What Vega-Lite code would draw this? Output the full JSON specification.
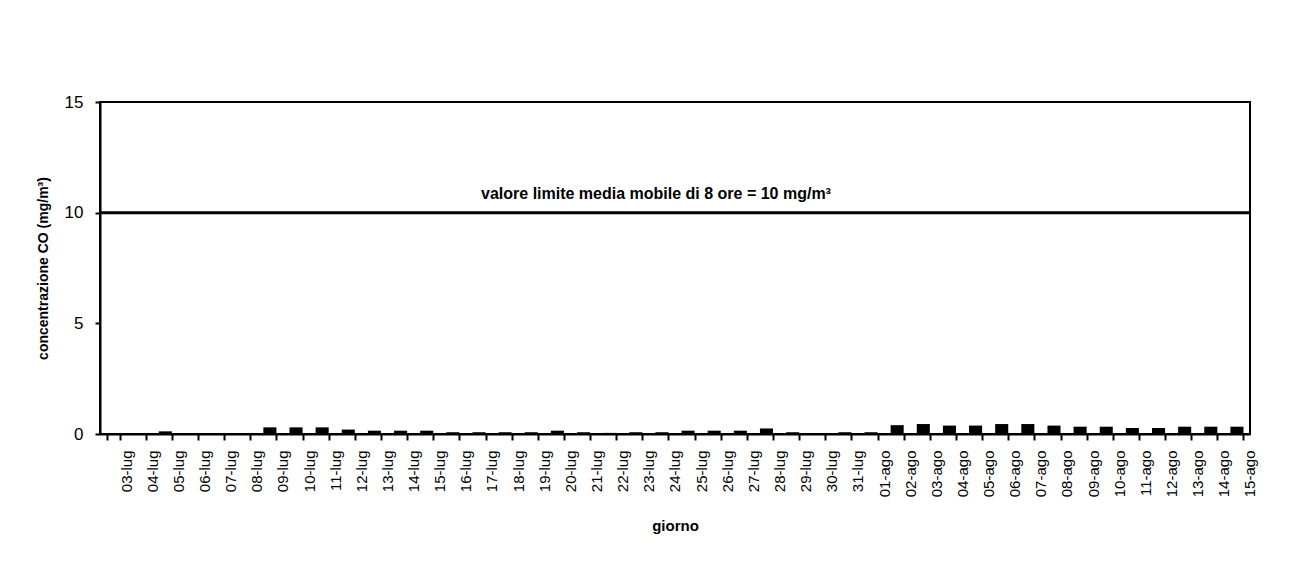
{
  "$schema": "https://vega.github.io/schema/vega-lite/v6.json",
  "width": 1150,
  "height": 332,
  "autosize": {"type": "none"},
  "padding": {"left": 100, "top": 102, "right": 39, "bottom": 135},
  "background": "white",
  "config": {
    "font": "Liberation Sans",
    "view": {"stroke": "black", "strokeWidth": 2},
    "axis": {"domainColor": "black", "domainWidth": 2, "tickColor": "black", "tickWidth": 2, "labelColor": "black", "titleColor": "black", "grid": false}
  },
  "data": {"values": [
    {"giorno": "03-lug", "co": 0}, {"giorno": "04-lug", "co": 0}, {"giorno": "05-lug", "co": 0.12},
    {"giorno": "06-lug", "co": 0}, {"giorno": "07-lug", "co": 0}, {"giorno": "08-lug", "co": 0},
    {"giorno": "09-lug", "co": 0.3}, {"giorno": "10-lug", "co": 0.3}, {"giorno": "11-lug", "co": 0.3},
    {"giorno": "12-lug", "co": 0.2}, {"giorno": "13-lug", "co": 0.15}, {"giorno": "14-lug", "co": 0.15},
    {"giorno": "15-lug", "co": 0.15}, {"giorno": "16-lug", "co": 0.08}, {"giorno": "17-lug", "co": 0.08},
    {"giorno": "18-lug", "co": 0.08}, {"giorno": "19-lug", "co": 0.08}, {"giorno": "20-lug", "co": 0.15},
    {"giorno": "21-lug", "co": 0.08}, {"giorno": "22-lug", "co": 0.05}, {"giorno": "23-lug", "co": 0.08},
    {"giorno": "24-lug", "co": 0.08}, {"giorno": "25-lug", "co": 0.15}, {"giorno": "26-lug", "co": 0.15},
    {"giorno": "27-lug", "co": 0.15}, {"giorno": "28-lug", "co": 0.25}, {"giorno": "29-lug", "co": 0.08},
    {"giorno": "30-lug", "co": 0}, {"giorno": "31-lug", "co": 0.08}, {"giorno": "01-ago", "co": 0.08},
    {"giorno": "02-ago", "co": 0.4}, {"giorno": "03-ago", "co": 0.45}, {"giorno": "04-ago", "co": 0.38},
    {"giorno": "05-ago", "co": 0.38}, {"giorno": "06-ago", "co": 0.45}, {"giorno": "07-ago", "co": 0.45},
    {"giorno": "08-ago", "co": 0.38}, {"giorno": "09-ago", "co": 0.33}, {"giorno": "10-ago", "co": 0.33},
    {"giorno": "11-ago", "co": 0.27}, {"giorno": "12-ago", "co": 0.27}, {"giorno": "13-ago", "co": 0.33},
    {"giorno": "14-ago", "co": 0.33}, {"giorno": "15-ago", "co": 0.33}
  ]},
  "layer": [
    {
      "mark": {"type": "bar", "color": "black"},
      "encoding": {
        "x": {
          "field": "giorno", "type": "ordinal", "sort": null,
          "scale": {"paddingInner": 0.5, "paddingOuter": 0.25},
          "axis": {"title": "giorno", "titleFontWeight": "bold", "titleFontSize": 15, "titlePadding": 22,
                   "labelAngle": -90, "labelFontSize": 15, "labelPadding": 10, "tickSize": 6,
                   "tickBand": "extent", "labelOffset": 13}
        },
        "y": {
          "field": "co", "type": "quantitative",
          "scale": {"domain": [0, 15], "nice": false},
          "axis": {"title": "concentrazione CO (mg/m³)", "titleFontWeight": "bold", "titleFontSize": 14, "titlePadding": 14,
                   "values": [0, 5, 10, 15], "labelFontSize": 17, "labelPadding": 12, "tickSize": 5}
        }
      }
    },
    {
      "data": {"values": [{"limite": 10}]},
      "mark": {"type": "rule", "color": "black", "strokeWidth": 3},
      "encoding": {"y": {"field": "limite", "type": "quantitative"}}
    },
    {
      "data": {"values": [{"limite": 10, "etichetta": "valore limite media mobile di 8 ore = 10 mg/m³"}]},
      "mark": {"type": "text", "font": "Liberation Sans", "fontWeight": "bold", "fontSize": 16, "baseline": "middle", "align": "center", "dy": -19, "dx": -19, "color": "black"},
      "encoding": {
        "y": {"field": "limite", "type": "quantitative"},
        "text": {"field": "etichetta"}
      }
    }
  ]
}
